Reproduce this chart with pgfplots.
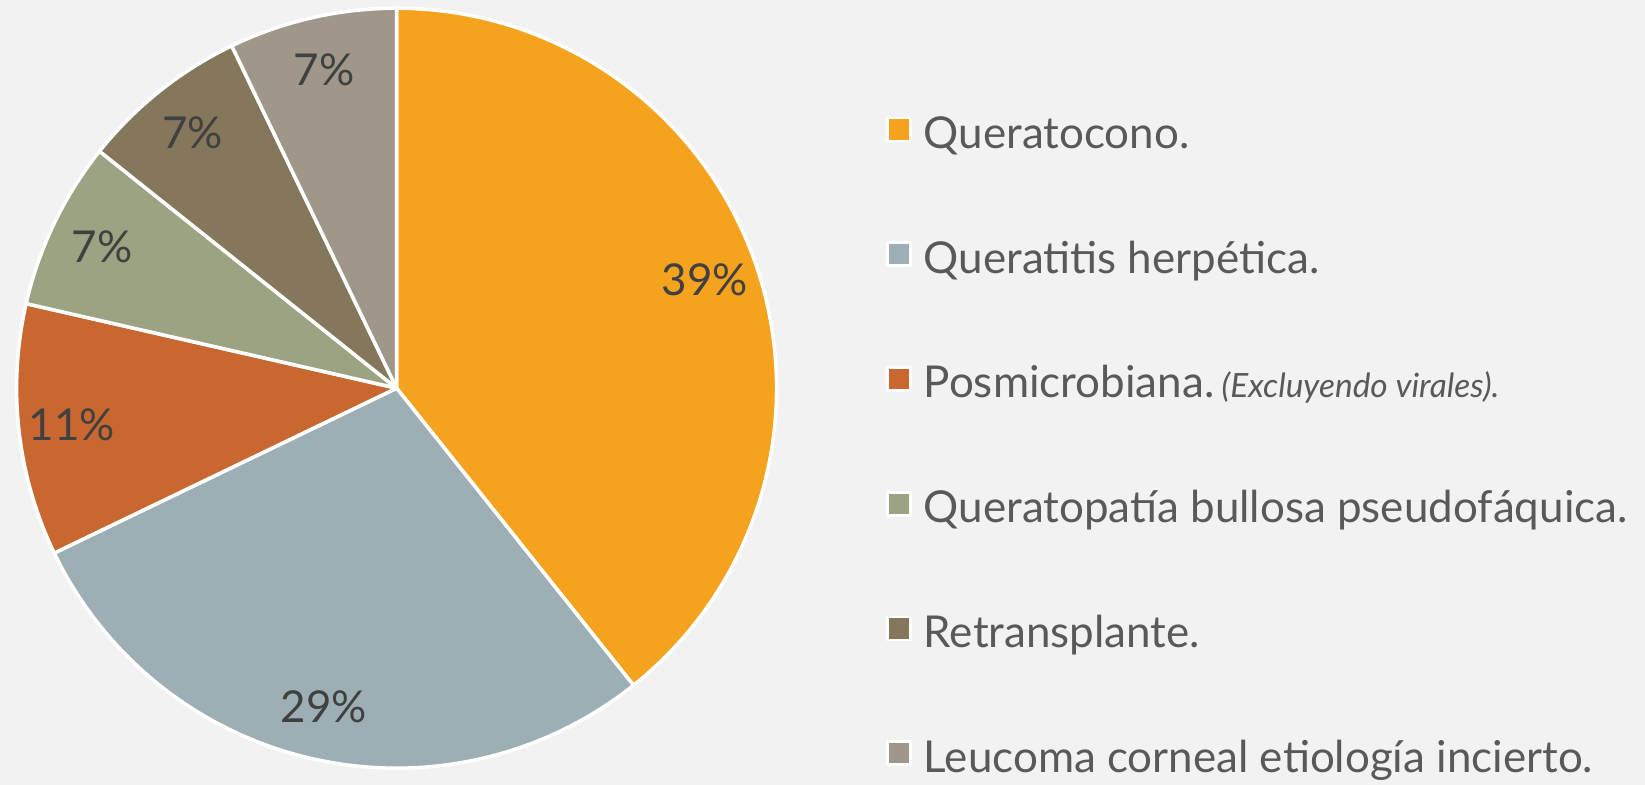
\documentclass[border=0pt]{standalone}
\usepackage{pgfplots}
\pgfplotsset{compat=1.18}
\usepackage{pgfplotstable}
\usepackage{fontspec}
\setmainfont{Lato}

\definecolor{bg}{HTML}{F2F2F2}
\definecolor{c1}{HTML}{F5A31E}
\definecolor{c2}{HTML}{9DAFB5}
\definecolor{c3}{HTML}{C8672F}
\definecolor{c4}{HTML}{9CA382}
\definecolor{c5}{HTML}{85775B}
\definecolor{c6}{HTML}{A0978B}
\definecolor{legtext}{HTML}{595959}
\definecolor{labtext}{HTML}{404040}

\pgfplotstableread{
id value
0 11
1 8
2 3
3 2
4 2
5 2
}\piedata

\def\cx{396.6}
\def\cy{396.8}
\def\R{380}
\def\lr{0.86}

\newcommand\computeangles{%
  \xdef\total{0}%
  \foreach \i in {0,...,5}{%
    \pgfplotstablegetelem{\i}{value}\of\piedata
    \pgfmathsetmacro\tmp{\total+\pgfplotsretval}%
    \xdef\total{\tmp}}%
  \xdef\cum{0}%
  \foreach \i in {0,...,5}{%
    \pgfplotstablegetelem{\i}{value}\of\piedata
    \edef\myval{\pgfplotsretval}%
    \pgfmathsetmacro\sA{90-360*\cum/\total}%
    \pgfmathsetmacro\nc{\cum+\myval}%
    \pgfmathsetmacro\eA{90-360*\nc/\total}%
    \pgfmathsetmacro\mA{(\sA+\eA)/2}%
    \pgfmathsetmacro\lx{\cx+\lr*\R*cos(\mA)}%
    \pgfmathsetmacro\ly{\cy+\lr*\R*sin(\mA)}%
    \pgfmathtruncatemacro\pc{round(100*\myval/\total)}%
    \expandafter\xdef\csname aS\i\endcsname{\sA}%
    \expandafter\xdef\csname aE\i\endcsname{\eA}%
    \expandafter\xdef\csname lx\i\endcsname{\lx}%
    \expandafter\xdef\csname ly\i\endcsname{\ly}%
    \expandafter\xdef\csname pc\i\endcsname{\pc}%
    \xdef\cum{\nc}%
  }}
\computeangles

\newcommand\slice[2]{%
  \addplot[fill=#2, draw=white, line width=1pt, line join=round,
    domain=\csname aE#1\endcsname:\csname aS#1\endcsname, samples=120]
    ({\cx+\R*cos(x)},{\cy+\R*sin(x)}) -- (axis cs:\cx,\cy) -- cycle;
  \edef\temp{\noexpand\node[text=labtext, font=\noexpand\fontsize{12.5pt}{15pt}\noexpand\selectfont, inner sep=0pt]
    at (axis cs:\csname lx#1\endcsname,\csname ly#1\endcsname) {\csname pc#1\endcsname\noexpand\%};}%
  \temp
}

\begin{document}
\begin{tikzpicture}
\fill[bg] (0,0) rectangle (16.45cm,7.85cm);
\begin{axis}[
  at={(0,0)}, anchor=south west,
  scale only axis, width=16.45cm, height=7.85cm,
  xmin=0, xmax=1645, ymin=0, ymax=785,
  hide axis, clip=false,
  legend style={
    at={(0.5386,0.858)}, anchor=north west,
    draw=none, fill=none, inner sep=0pt, outer sep=0pt,
    font=\fontsize{12.5pt}{15pt}\selectfont, text=legtext,
    row sep=25pt, column sep=0.12cm,
    nodes={inner sep=0pt, text height=10.5pt, text depth=0pt},
    cells={anchor=west},
  },
  legend image code/.code={%
    \draw[#1, draw=white, line width=0.8pt] (0cm,-0.11cm) rectangle (0.23cm,0.12cm);},
]
\slice{0}{c1}
\slice{1}{c2}
\slice{2}{c3}
\slice{3}{c4}
\slice{4}{c5}
\slice{5}{c6}
\legend{Queratocono., Queratitis herpética., Posmicrobiana.\,{\fontsize{9.5pt}{12pt}\selectfont\itshape(Excluyendo virales).}, Queratopatía bullosa pseudofáquica., Retransplante., Leucoma corneal etiología incierto.}
\end{axis}
\pgfresetboundingbox
\path[use as bounding box] (0,0) rectangle (16.45cm,7.85cm);
\end{tikzpicture}
\end{document}
